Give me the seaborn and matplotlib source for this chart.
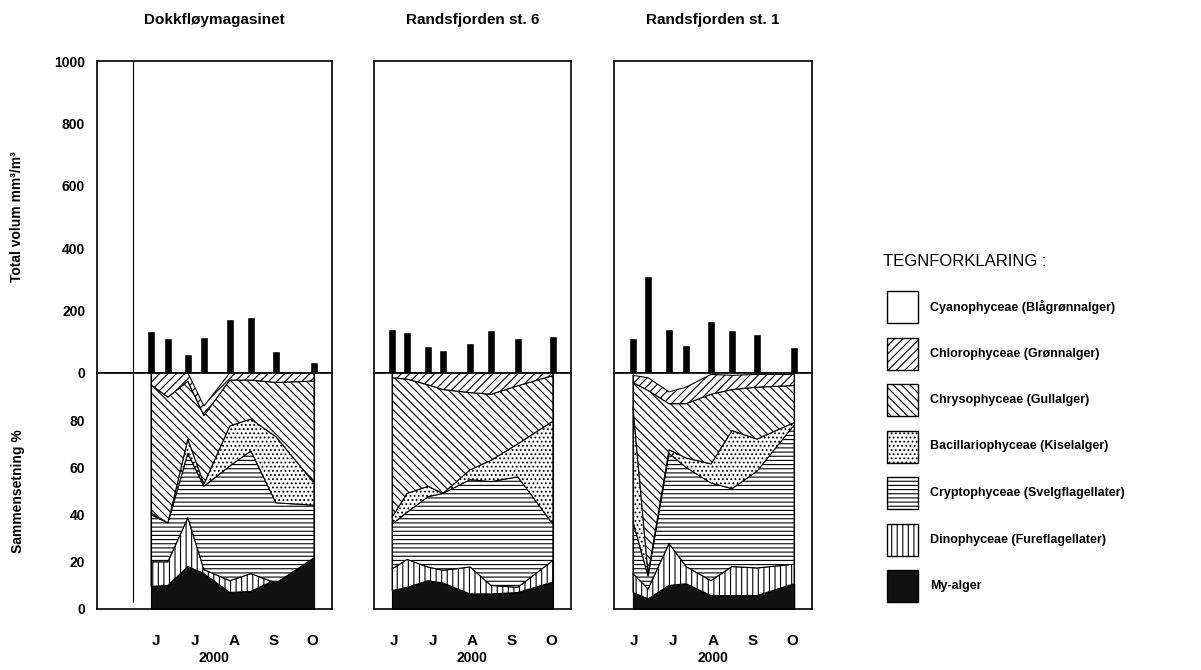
import numpy as np
import pandas as pd
import seaborn as sns
import matplotlib.pyplot as plt
from matplotlib.patches import Rectangle

sns.set_style("white")
plt.rcParams['font.family'] = ['Liberation Sans', 'DejaVu Sans']
plt.rcParams['hatch.linewidth'] = 0.8
plt.rcParams['text.color'] = 'black'
plt.rcParams['xtick.color'] = 'black'
plt.rcParams['ytick.color'] = 'black'
plt.rcParams['axes.labelcolor'] = 'black'

# ---- data ----
stations = ["Dokkfløymagasinet", "Randsfjorden st. 6", "Randsfjorden st. 1"]
x_start = [5, 6, 6]  # first month shown on each axis (5 = May)

dates_p1 = [6.38, 6.81, 7.32, 7.73, 8.39, 8.93, 9.57, 10.54]
dates_p2 = [6.46, 6.84, 7.37, 7.75, 8.44, 8.97, 9.65, 10.54]
dates_p3 = [6.48, 6.86, 7.39, 7.82, 8.45, 8.98, 9.61, 10.55]

volume_p1 = [135, 112, 62, 115, 172, 180, 72, 35]
volume_p2 = [142, 130, 88, 75, 95, 138, 112, 118]
volume_p3 = [112, 310, 140, 90, 168, 138, 125, 82]

# cumulative upper boundaries (%) of each group, bottom to top
my_p1 = [9.6, 10, 18, 15, 7, 7.5, 12.5, 21.7]
dino_p1 = [20, 20, 38.7, 16.7, 12, 15, 11, 21.7]
crypto_p1 = [40, 36.5, 66, 52, 60.6, 67, 45, 44]
bacill_p1 = [40.8, 36.5, 72, 53, 77.6, 80.5, 73, 53.5]
chryso_p1 = [95, 89.8, 96.5, 82, 97, 97, 96, 96.6]
chloro_p1 = [100, 100, 100, 86, 100, 100, 100, 100]

my_p2 = [7.8, 9.2, 12, 11, 6.4, 6.4, 7, 11.4]
dino_p2 = [17, 21, 17.8, 16.4, 17.8, 10, 9.2, 20.6]
crypto_p2 = [36, 41, 47.6, 49, 54.8, 54, 56, 36]
bacill_p2 = [39, 49, 52, 49, 59, 63, 70, 79.6]
chryso_p2 = [98, 97.4, 95, 93, 91.7, 91, 94.6, 98.9]
chloro_p2 = [100, 100, 100, 100, 100, 100, 100, 100]

my_p3 = [7, 4.3, 10, 10.7, 5.7, 5.7, 5.7, 10.7]
dino_p3 = [15, 8.5, 27.8, 18, 12, 18, 17.4, 19]
crypto_p3 = [37, 14, 66, 60, 53.4, 51, 58.4, 78]
bacill_p3 = [85.5, 15, 67.5, 64, 61.5, 75.6, 72, 79]
chryso_p3 = [96, 92.6, 87, 87, 91, 93, 94, 94.7]
chloro_p3 = [99, 98, 92, 94, 99.4, 99, 99.4, 99.4]

groups = ["Cyanophyceae (Blågrønnalger)", "Chlorophyceae (Grønnalger)",
          "Chrysophyceae (Gullalger)", "Bacillariophyceae (Kiselalger)",
          "Cryptophyceae (Svelgflagellater)", "Dinophyceae (Fureflagellater)",
          "My-alger"]
month_labels = ["J", "J", "A", "S", "O"]

panels = [
    (dates_p1, volume_p1, [my_p1, dino_p1, crypto_p1, bacill_p1, chryso_p1, chloro_p1]),
    (dates_p2, volume_p2, [my_p2, dino_p2, crypto_p2, bacill_p2, chryso_p2, chloro_p2]),
    (dates_p3, volume_p3, [my_p3, dino_p3, crypto_p3, bacill_p3, chryso_p3, chloro_p3]),
]

# styles, bottom to top (My, Dino, Crypto, Bacill, Chryso, Chloro)
styles = [("#111111", None), ("white", "|||"), ("white", "----"),
          ("white", "...."), ("white", "\\\\\\\\"), ("white", "////")]

fig = plt.figure(figsize=(12.01, 6.70), dpi=100)
W, H = 1201, 670
px = [(97, 332), (374, 571), (614, 812)]
title_x = [214, 473, 713]
year_x = [214, 472, 713]

for i, (dates, vol, cums) in enumerate(panels):
    x0, x1 = px[i]
    left, width = x0 / W, (x1 - x0) / W
    axt = fig.add_axes([left, 1 - 373 / H, width, 312 / H])
    axb = fig.add_axes([left, 1 - 609 / H, width, 236 / H])
    xlim = (x_start[i], 11)

    df = pd.DataFrame({"date": dates, "volume": vol})
    for d, v in zip(df.date, df.volume):
        axt.bar(d, v, width=0.21, color="black")
    axt.set_xlim(xlim)
    axt.set_ylim(0, 1000)
    axt.set_xticks([])
    fig.text(title_x[i] / W, 1 - 20 / H, stations[i], fontsize=11,
             fontweight="bold", ha="center", va="center")

    lower = np.zeros(len(dates))
    for cum, (fc, hatch) in zip(cums, styles):
        upper = np.array(cum, dtype=float)
        axb.fill_between(dates, lower, upper, facecolor=fc, hatch=hatch,
                         edgecolor="black", linewidth=0.8)
        lower = upper
    axb.plot([dates[0], dates[0]], [0, 100], color="black", lw=0.8)
    axb.plot([dates[-1], dates[-1]], [0, 100], color="black", lw=0.8)
    axb.set_xlim(xlim)
    axb.set_ylim(0, 100)

    axb.set_xticks(np.arange(x_start[i], 12))
    axb.set_xticklabels([])
    axb.set_xticks(np.arange(6.5, 11), minor=True)
    axb.set_xticklabels(month_labels, minor=True, fontsize=11, fontweight="bold")
    axb.tick_params(axis="x", which="major", direction="out", length=6, width=1)
    axb.tick_params(axis="x", which="minor", length=0, pad=18)
    fig.text(year_x[i] / W, 1 - 658 / H, "2000", fontsize=10,
             fontweight="bold", ha="center", va="center")

    for ax in (axt, axb):
        for s in ax.spines.values():
            s.set_linewidth(1.2)
            s.set_color("black")

    if i == 0:
        axt.set_yticks(np.arange(0, 1001, 200))
        axt.tick_params(axis="y", direction="out", length=5, labelsize=10)
        for t in axt.get_yticklabels():
            t.set_fontweight("bold")
        axb.set_yticks(np.arange(0, 81, 20))
        axb.tick_params(axis="y", direction="out", length=5, labelsize=10)
        for t in axb.get_yticklabels():
            t.set_fontweight("bold")
        axt.set_ylabel("Total volum mm³/m³", fontsize=10, fontweight="bold", labelpad=22)
        axb.set_ylabel("Sammensetning %", fontsize=10, fontweight="bold", labelpad=32)
        axt.axvline(5.92, color="black", lw=0.8)
        axb.plot([5.92, 5.92], [3, 100], color="black", lw=0.8)
    else:
        axt.set_yticks([])
        axb.set_yticks([])

# ---- legend ----
fig.text(883 / W, 1 - 262 / H, "TEGNFORKLARING :", fontsize=12, va="center")
leg_styles = [("white", None)] + list(reversed(styles))
for k, (name, (fc, hatch)) in enumerate(zip(groups, leg_styles)):
    yc = 307 + k * 46.5
    fig.patches.append(Rectangle((887 / W, 1 - (yc + 16) / H), 31 / W, 32 / H,
                                 transform=fig.transFigure, facecolor=fc,
                                 hatch=hatch, edgecolor="black", linewidth=1))
    fig.text(930 / W, 1 - yc / H, name, fontsize=9, fontweight="bold", va="center")

fig.savefig("out.png", dpi=100)
